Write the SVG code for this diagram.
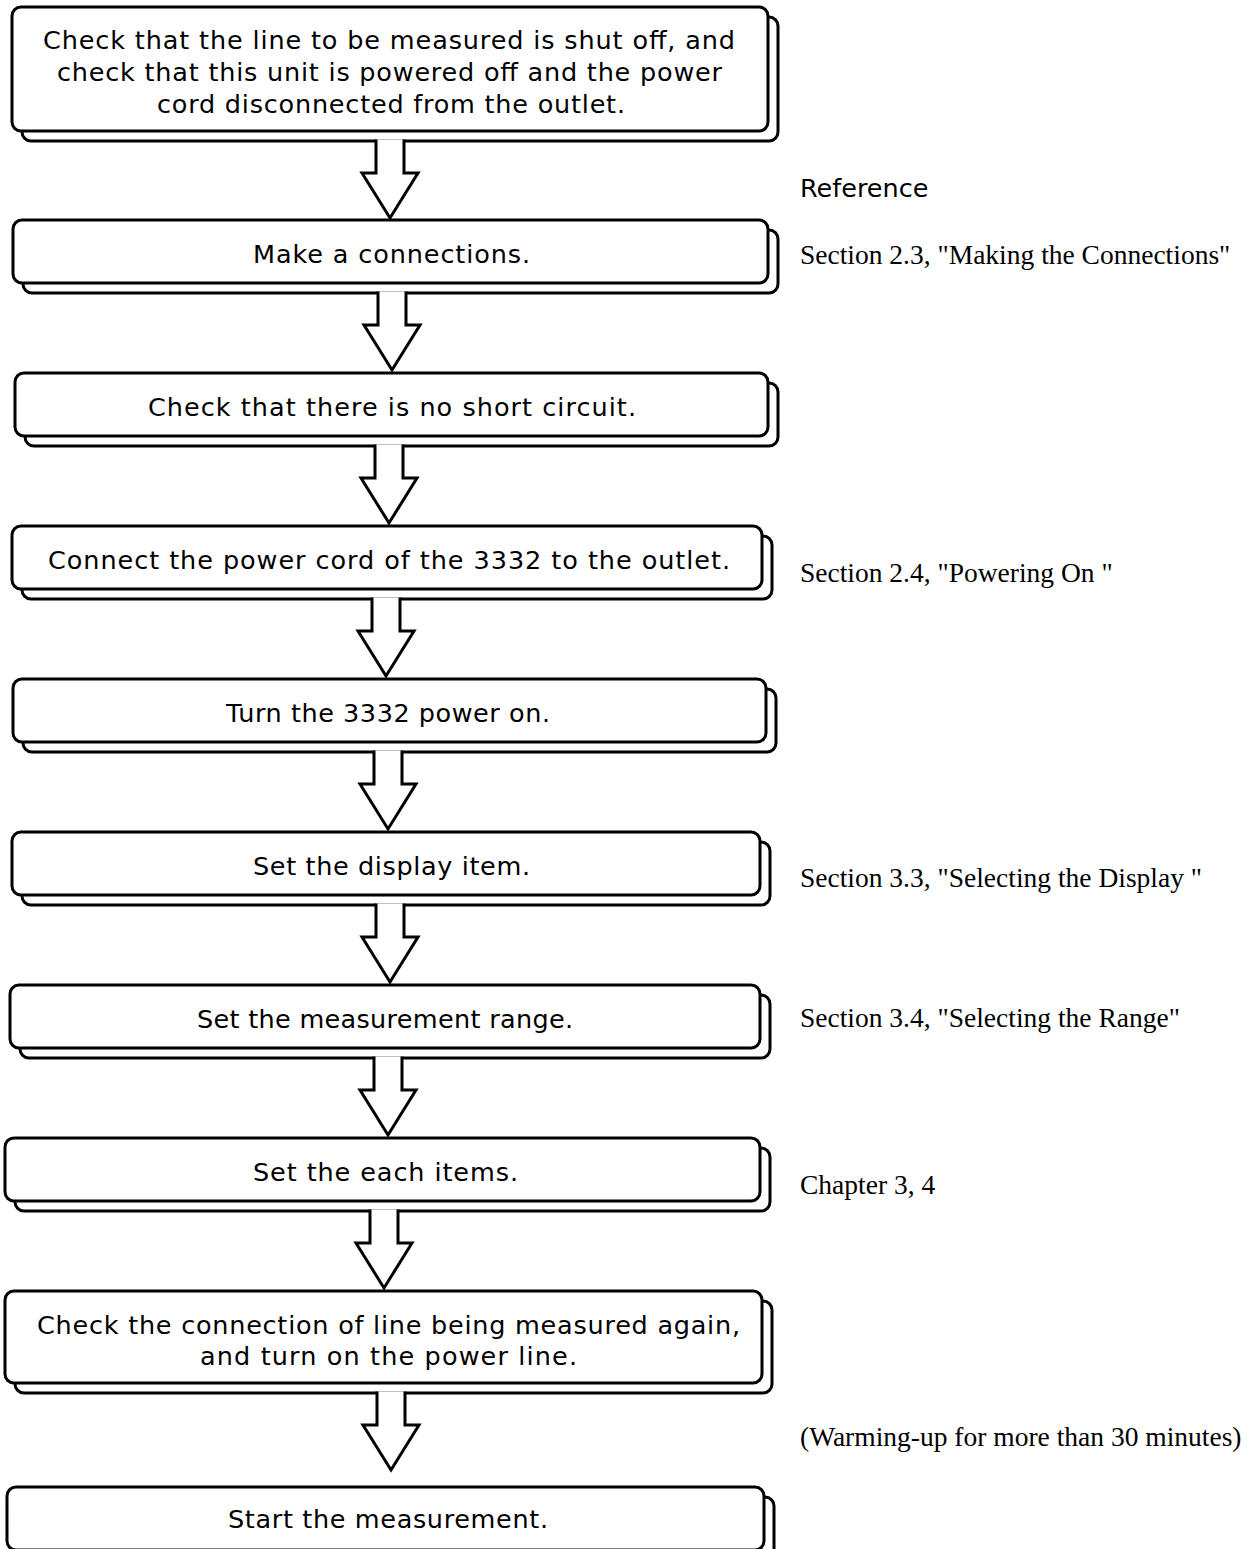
<svg xmlns="http://www.w3.org/2000/svg" width="1252" height="1549" viewBox="0 0 1252 1549">
<style>
.sh{fill:#fff;stroke:#000;stroke-width:3}
.bx{fill:#fff;stroke:#000;stroke-width:3}
.t{font-family:"DejaVu Sans",sans-serif;font-size:25.5px;fill:#000}
.r{font-family:"Liberation Serif",serif;font-size:27.5px;fill:#000}
.ref{font-family:"DejaVu Sans",sans-serif;font-size:25.5px;fill:#000}
.ar{fill:#fff;stroke:#000;stroke-width:3;stroke-linejoin:miter}
</style>
<rect width="1252" height="1549" fill="#fff"/>
<g id="n1"><rect class="sh" x="22" y="17" width="756" height="124" rx="9"/><rect class="bx" x="12" y="7" width="756" height="124" rx="9"/>
<text class="t" x="43" y="49" textLength="692">Check that the line to be measured is shut off, and</text>
<text class="t" x="57" y="81" textLength="665">check that this unit is powered off and the power</text>
<text class="t" x="157" y="113" textLength="468">cord disconnected from the outlet.</text></g>
<g id="n2"><rect class="sh" x="23" y="230" width="755" height="63" rx="9"/><rect class="bx" x="13" y="220" width="755" height="63" rx="9"/>
<text class="t" x="253" y="263" textLength="277">Make a connections.</text></g>
<g id="n3"><rect class="sh" x="25" y="383" width="753" height="63" rx="9"/><rect class="bx" x="15" y="373" width="753" height="63" rx="9"/>
<text class="t" x="148" y="416" textLength="488">Check that there is no short circuit.</text></g>
<g id="n4"><rect class="sh" x="22" y="536" width="750" height="63" rx="9"/><rect class="bx" x="12" y="526" width="750" height="63" rx="9"/>
<text class="t" x="48" y="569" textLength="682">Connect the power cord of the 3332 to the outlet.</text></g>
<g id="n5"><rect class="sh" x="23" y="689" width="753" height="63" rx="9"/><rect class="bx" x="13" y="679" width="753" height="63" rx="9"/>
<text class="t" x="226" y="722" textLength="324">Turn the 3332 power on.</text></g>
<g id="n6"><rect class="sh" x="22" y="842" width="748" height="63" rx="9"/><rect class="bx" x="12" y="832" width="748" height="63" rx="9"/>
<text class="t" x="253" y="875" textLength="277">Set the display item.</text></g>
<g id="n7"><rect class="sh" x="20" y="995" width="750" height="63" rx="9"/><rect class="bx" x="10" y="985" width="750" height="63" rx="9"/>
<text class="t" x="197" y="1028" textLength="376">Set the measurement range.</text></g>
<g id="n8"><rect class="sh" x="15" y="1148" width="755" height="63" rx="9"/><rect class="bx" x="5" y="1138" width="755" height="63" rx="9"/>
<text class="t" x="253" y="1181" textLength="265">Set the each items.</text></g>
<g id="n9"><rect class="sh" x="15" y="1301" width="757" height="92" rx="9"/><rect class="bx" x="5" y="1291" width="757" height="92" rx="9"/>
<text class="t" x="37" y="1334" textLength="703">Check the connection of line being measured again,</text>
<text class="t" x="200" y="1365" textLength="377">and turn on the power line.</text></g>
<g id="n10"><rect class="sh" x="17" y="1497" width="757" height="63" rx="9"/><rect class="bx" x="7" y="1487" width="757" height="63" rx="9"/>
<text class="t" x="228" y="1528" textLength="320">Start the measurement.</text></g>
<g id="connectors">
<path class="ar" d="M376,139.5 V173 H362 L390,218 L418,173 H404 V139.5"/>
<path class="ar" d="M378,291.5 V325 H364 L392,370 L420,325 H406 V291.5"/>
<path class="ar" d="M375,444.5 V478 H361 L389,523 L417,478 H403 V444.5"/>
<path class="ar" d="M372,597.5 V631 H358 L386,676 L414,631 H400 V597.5"/>
<path class="ar" d="M374,750.5 V784 H360 L388,829 L416,784 H402 V750.5"/>
<path class="ar" d="M376,903.5 V937 H362 L390,982 L418,937 H404 V903.5"/>
<path class="ar" d="M374,1056.5 V1090 H360 L388,1135 L416,1090 H402 V1056.5"/>
<path class="ar" d="M370,1209.5 V1243 H356 L384,1288 L412,1243 H398 V1209.5"/>
<path class="ar" d="M377,1391.5 V1425 H363 L391,1470 L419,1425 H405 V1391.5"/>
</g>
<g id="notes">
<text class="ref" x="800" y="197">Reference</text>
<text class="r" x="800" y="264">Section 2.3, "Making the Connections"</text>
<text class="r" x="800" y="582">Section 2.4, "Powering On "</text>
<text class="r" x="800" y="887">Section 3.3, "Selecting the Display "</text>
<text class="r" x="800" y="1027">Section 3.4, "Selecting the Range"</text>
<text class="r" x="800" y="1194">Chapter 3, 4</text>
<text class="r" x="800" y="1446">(Warming-up for more than 30 minutes)</text>
</g>
</svg>
